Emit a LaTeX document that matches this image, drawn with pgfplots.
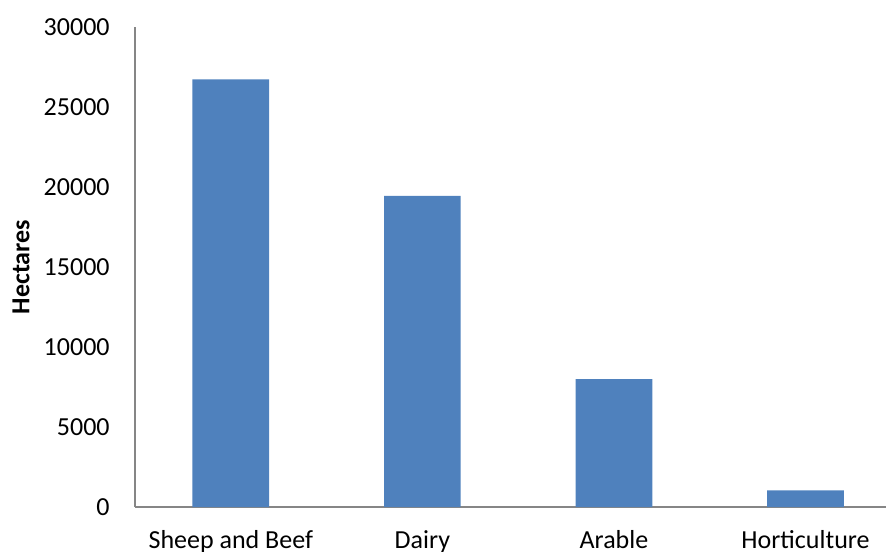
\documentclass[border=0pt]{standalone}
\usepackage{pgfplots}
\pgfplotsset{compat=1.18}
\usepackage{fontspec}
\setmainfont{Carlito}
\definecolor{barblue}{HTML}{4F81BD}
\definecolor{axisgray}{HTML}{868686}
\begin{document}
\fontsize{13pt}{15.6pt}\selectfont
\begin{tikzpicture}
\useasboundingbox (0,0) rectangle (443pt,275.5pt);
\begin{axis}[
  at={(67.5pt,22pt)}, anchor=south west,
  scale only axis, width=375.5pt, height=240pt,
  xmin=-0.5, xmax=3.42, ymin=0, ymax=30000,
  axis x line*=bottom, axis y line*=left,
  axis line style={axisgray, line width=0.6pt},
  major tick length=0pt,
  xtick={0,1,2,3},
  xticklabels={Sheep and Beef, Dairy, Arable, Horticulture},
  ytick={0,5000,10000,15000,20000,25000,30000},
  scaled y ticks=false,
  /pgf/number format/assume math mode=true,
  /pgf/number format/set thousands separator={},
  tick label style={font=\fontsize{13pt}{15.6pt}\selectfont, text=black},
  yticklabel style={anchor=east, inner sep=0pt, xshift=-12.5pt},
  xticklabel style={anchor=north, inner sep=0pt, yshift=-11.5pt},
  ylabel={Hectares},
  ylabel style={at={(axis description cs:-0.1518,0.5)}, anchor=center, font=\fontsize{13pt}{15.6pt}\selectfont\bfseries},
  ybar, bar width=0.4, bar shift=0pt,
  clip=false,
]
\addplot[fill=barblue, draw=none] coordinates {(0,26730) (1,19440) (2,8000) (3,1045)};
\end{axis}
\end{tikzpicture}
\end{document}
